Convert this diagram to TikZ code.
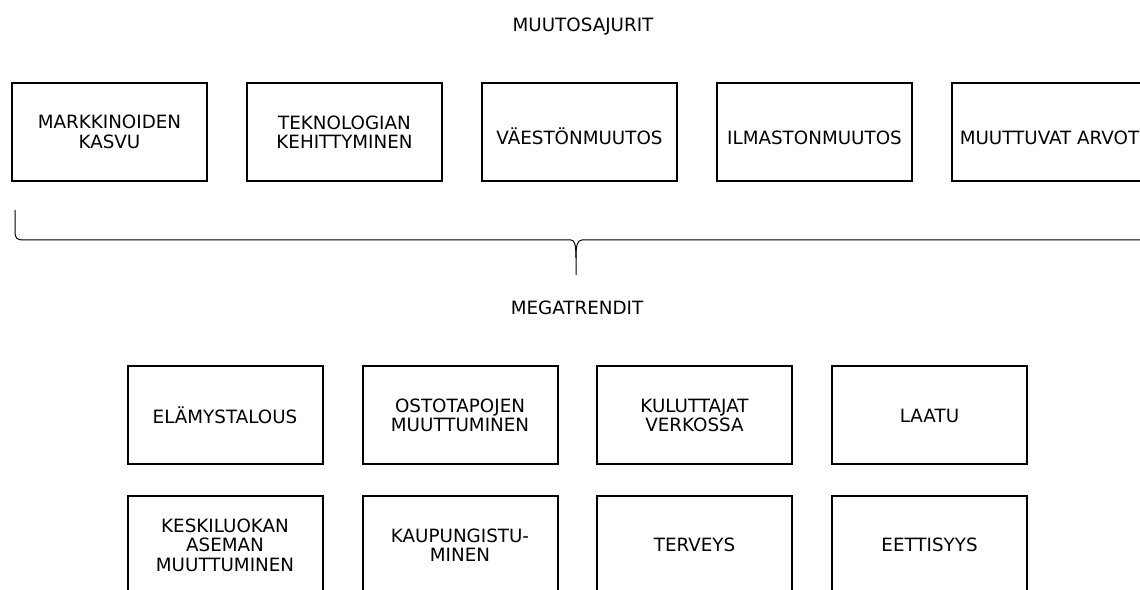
\documentclass[tikz,border=0pt]{standalone}
\usepackage{fontspec}
\setmainfont{DejaVu Sans}
\usetikzlibrary{positioning}
\tikzset{
    boxfont/.style={font={\fontsize{18.3}{19.5}\selectfont}},
    trendbox/.style={boxfont, draw, line width=2pt, minimum width=195pt,
        minimum height=98pt, inner sep=0pt, align=center},
    oneline/.style={text height=25pt},
    heading/.style={boxfont, inner sep=0pt}
}
\begin{document}
\begin{tikzpicture}[x=1pt,y=1pt]
    \useasboundingbox (0,0) rectangle (1140,589);
    \clip (0,0) rectangle (1140,589);
    % drivers
    \node[heading] (drivers) at (583,562) {MUUTOSAJURIT};
    \node[trendbox] (markets) at (109.5,457) {MARKKINOIDEN\\KASVU};
    \node[trendbox] (tech) at (344.5,457) {TEKNOLOGIAN\\KEHITTYMINEN};
    \node[trendbox, oneline] (population) at (579.5,457) {VÄESTÖNMUUTOS};
    \node[trendbox, oneline] (climate) at (814.5,457) {ILMASTONMUUTOS};
    \node[trendbox, oneline] (values) at (1049.5,457) {MUUTTUVAT ARVOT};
    % brace
    \coordinate (bracel) at (15,379);
    \coordinate (bracer) at (1160,349);
    \coordinate (tip) at (576,314);
    \draw[line width=1pt]
            (bracel) -- (15,357)
            .. controls (15,351) and (17,349) .. (23,349)
            -- (571,349)
            .. controls (575,349) and (576,343) .. (576,331)
            -- (tip);
    \draw[line width=1pt]
            (bracer) -- (582,349)
            .. controls (577,349) and (576,343) .. (576,331);
    % megatrends
    \node[heading] (trends) at (577,281) {MEGATRENDIT};
    \node[trendbox] (experience) at (225,173.5) {ELÄMYSTALOUS};
    \node[trendbox] (shopping) at (460,173.5) {OSTOTAPOJEN\\MUUTTUMINEN};
    \node[trendbox] (online) at (694.5,173.5) {KULUTTAJAT\\VERKOSSA};
    \node[trendbox] (quality) at (929.5,173.5) {LAATU};
    \node[trendbox] (middle) at (225,44) {KESKILUOKAN\\ASEMAN\\MUUTTUMINEN};
    \node[trendbox] (urban) at (460,44) {KAUPUNGISTU-\\MINEN};
    \node[trendbox] (health) at (694.5,44) {TERVEYS};
    \node[trendbox] (ethics) at (929.5,44) {EETTISYYS};
\end{tikzpicture}
\end{document}
